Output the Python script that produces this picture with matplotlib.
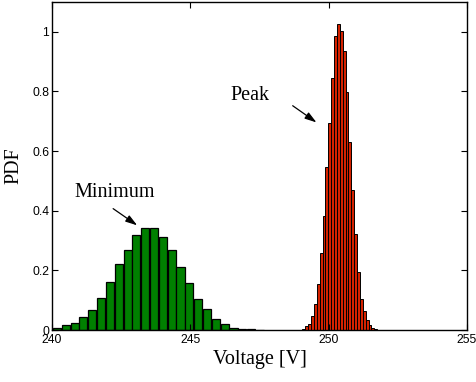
import numpy as np
import matplotlib
matplotlib.use("Agg")
import matplotlib.pyplot as plt

# Minimum-voltage histogram (green)
min_start = 240.02
min_width = 0.319
min_vals = [0.007, 0.016, 0.025, 0.044, 0.068, 0.107, 0.162, 0.220, 0.270, 0.317,
            0.343, 0.342, 0.312, 0.270, 0.212, 0.158, 0.105, 0.069, 0.038, 0.020,
            0.008, 0.004, 0.002, 0.001]

# Peak-voltage histogram (red)
peak_start = 249.05
peak_width = 0.104
peak_vals = [0.003, 0.012, 0.021, 0.048, 0.088, 0.156, 0.259, 0.382, 0.548, 0.694,
             0.844, 0.986, 1.027, 1.002, 0.937, 0.797, 0.631, 0.470, 0.323, 0.194,
             0.104, 0.063, 0.035, 0.018, 0.007, 0.002, 0.001]

xticks = [240, 245, 250, 255]
yticks = [0, 0.2, 0.4, 0.6, 0.8, 1.0]
ytick_labels = ["0", "0.2", "0.4", "0.6", "0.8", "1"]

fig = plt.figure(figsize=(4.77, 3.82), dpi=100)
ax = fig.add_axes([0.109, 0.136, 0.870, 0.859])

min_left = min_start + min_width * np.arange(len(min_vals))
peak_left = peak_start + peak_width * np.arange(len(peak_vals))

ax.bar(min_left + min_width * 0.04, min_vals, width=min_width * 0.92, align="edge",
       color="#008000", edgecolor="black", linewidth=0.9)
ax.bar(peak_left, peak_vals, width=peak_width, align="edge",
       color="#d42200", edgecolor="black", linewidth=0.7)

ax.set_xlim(240, 255)
ax.set_ylim(0, 1.1)
ax.set_xticks(xticks)
ax.set_xticklabels([str(t) for t in xticks], family="Liberation Sans", fontsize=8.7)
ax.set_yticks(yticks)
ax.set_yticklabels(ytick_labels, family="Liberation Sans", fontsize=8.7)
ax.tick_params(direction="in", top=True, right=True, length=4, width=0.8, pad=2)
ax.tick_params(axis="x", pad=3)
for s in ax.spines.values():
    s.set_linewidth(1.0)

ax.set_xlabel("Voltage [V]", family="Liberation Serif", fontsize=14.5, labelpad=3)
ax.set_ylabel("PDF", family="Liberation Serif", fontsize=14.5, labelpad=6)

ax.annotate("", xy=(243.08, 0.351), xytext=(242.21, 0.407),
            arrowprops=dict(arrowstyle="-|>,head_length=0.7,head_width=0.22",
                            color="black", lw=0.9, shrinkA=0, shrinkB=0))
ax.text(242.26, 0.462, "Minimum", family="Liberation Serif", fontsize=14.5,
        ha="center", va="center")

ax.annotate("", xy=(249.56, 0.696), xytext=(248.70, 0.752),
            arrowprops=dict(arrowstyle="-|>,head_length=0.7,head_width=0.22",
                            color="black", lw=0.9, shrinkA=0, shrinkB=0))
ax.text(247.14, 0.785, "Peak", family="Liberation Serif", fontsize=14.5,
        ha="center", va="center")

fig.savefig("out.png", dpi=100)
